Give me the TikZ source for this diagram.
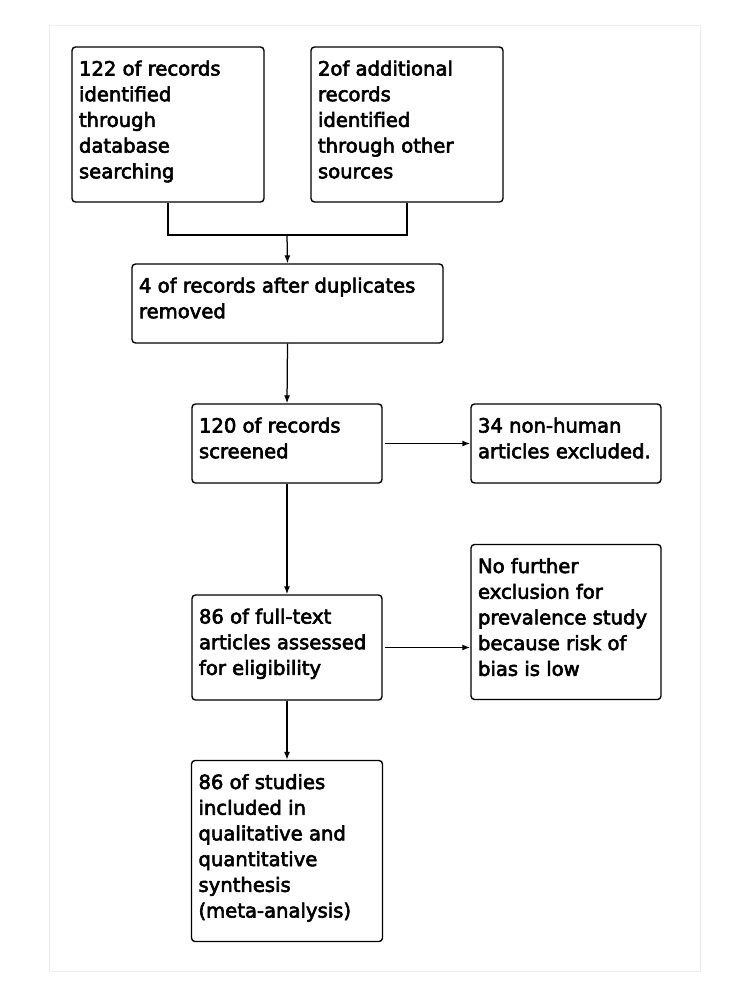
\documentclass[tikz,border=0pt]{standalone}
\usepackage{fontspec}
\setmainfont{DejaVu Sans}
\usetikzlibrary{arrows.meta}
\hfuzz=20pt
\newcommand{\bxt}[3]{\parbox[c][#2][t]{#1}{\raggedright\fontsize{19.6pt}{25.7pt}\selectfont\rule{0pt}{28.5pt}\special{pdf:code q 2 Tr 0.6 w}#3\special{pdf:code Q}}}
\begin{document}
\begin{tikzpicture}[x=1pt,y=-1pt,
  box/.style={draw=black, line width=1.4pt, rounded corners=3.5pt, inner xsep=7pt, inner ysep=0pt, anchor=center, fill=white},
  conn/.style={draw=black, line width=1.25pt},
  arr/.style={conn, -{Latex[length=8pt,width=6pt]}}]
\useasboundingbox (0,0) rectangle (750,997);
\draw[draw=black!7, line width=1pt] (49,25) rectangle (700,971);
\node[box] (b1) at (168,124.5) {\bxt{178pt}{155pt}{122 of records\\identified\\through\\database\\searching}};
\node[box] (b2) at (407,124.5) {\bxt{178pt}{155pt}{2of additional\\records\\identified\\through other\\sources}};
\node[box] (b3) at (287.5,303.5) {\bxt{297pt}{79pt}{4 of records after duplicates\\removed}};
\node[box] (b4) at (287,443.5) {\bxt{176pt}{79pt}{120 of records\\screened}};
\node[box] (b5) at (566,443.5) {\bxt{176pt}{79pt}{34 non-human\\articles excluded.}};
\node[box] (b6) at (287,647.5) {\bxt{176pt}{105pt}{86 of full-text\\articles assessed\\for eligibility}};
\node[box] (b7) at (566,622) {\bxt{176pt}{155pt}{No further\\exclusion for\\prevalence study\\because risk of\\bias is low}};
\node[box] (b8) at (287,851) {\bxt{177pt}{181pt}{86 of studies\\included in\\qualitative and\\quantitative\\synthesis\\(meta-analysis)}};
\coordinate (j) at (287,235);
\draw[conn] (b1.south) |- (j) -| (b2.south);
\draw[arr] (j) -- (b3.north);
\draw[arr] (b3.south) -- (b4.north);
\draw[arr] ([xshift=2pt]b4.east) -- (b5.west);
\draw[arr] (b4.south) -- (b6.north);
\draw[arr] ([xshift=2pt]b6.east) -- (b7.west |- b6.east);
\draw[arr] (b6.south) -- (b8.north);
\end{tikzpicture}
\end{document}
